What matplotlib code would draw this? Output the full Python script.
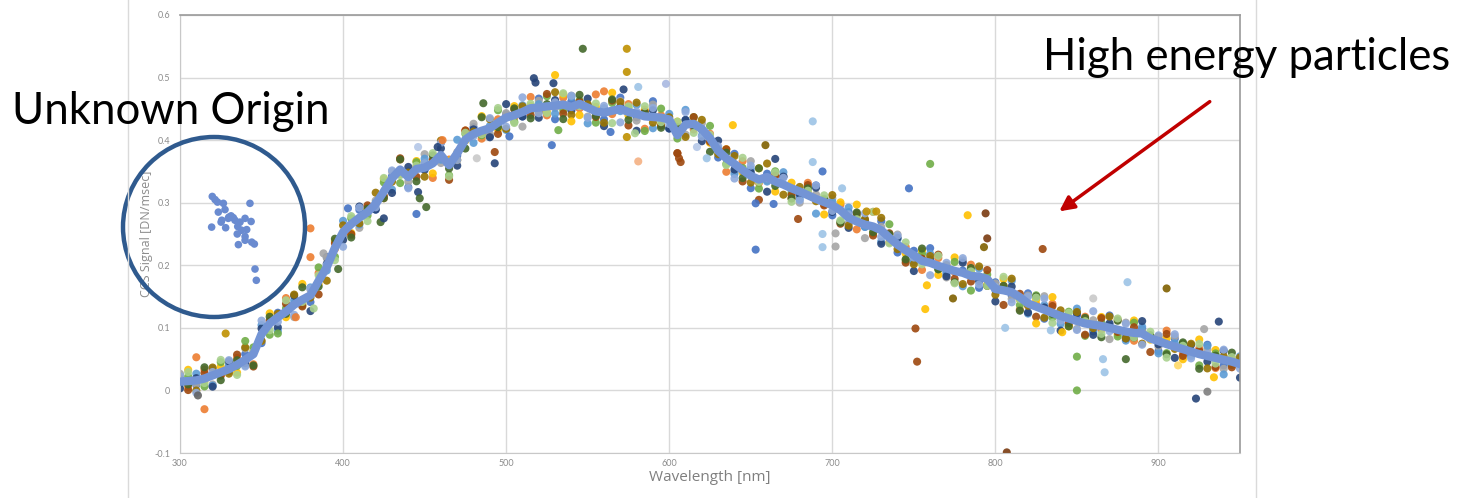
import numpy as np
import matplotlib.pyplot as plt
from matplotlib.patches import Ellipse, FancyArrowPatch
from matplotlib.lines import Line2D

# wavelength grid of the averaged spectrum (nm)
wl_grid = np.arange(300, 951, 5)

# averaged CCS signal [DN/msec], one value per 5 nm
mean_signal = [
    0.014, 0.015, 0.016, 0.019, 0.024, 0.029, 0.034, 0.041, 0.049, 0.058,
    0.090, 0.107, 0.117, 0.126, 0.137, 0.145, 0.152, 0.175, 0.197, 0.228,
    0.253, 0.266, 0.276, 0.285, 0.298, 0.318, 0.339, 0.353, 0.341, 0.354,
    0.356, 0.363, 0.376, 0.360, 0.379, 0.401, 0.410, 0.415, 0.419, 0.428,
    0.436, 0.440, 0.445, 0.451, 0.452, 0.454, 0.455, 0.457, 0.453, 0.458,
    0.452, 0.446, 0.444, 0.447, 0.450, 0.445, 0.442, 0.438, 0.437, 0.436,
    0.433, 0.408, 0.425, 0.426, 0.418, 0.403, 0.383, 0.371, 0.362, 0.352,
    0.343, 0.337, 0.341, 0.334, 0.329, 0.323, 0.318, 0.312, 0.306, 0.301,
    0.296, 0.288, 0.276, 0.270, 0.265, 0.262, 0.256, 0.244, 0.233, 0.224,
    0.216, 0.207, 0.204, 0.199, 0.195, 0.191, 0.188, 0.183, 0.182, 0.178,
    0.162, 0.160, 0.157, 0.149, 0.139, 0.134, 0.129, 0.124, 0.119, 0.115,
    0.111, 0.107, 0.105, 0.103, 0.100, 0.097, 0.094, 0.092, 0.091, 0.083,
    0.079, 0.074, 0.070, 0.066, 0.062, 0.058, 0.055, 0.052, 0.049, 0.046,
    0.042,
]

# individual measurements: deviation from the mean, in steps of 0.0018 DN/msec
# even series sit on 300,310,...; odd series on 305,315,...
dev_unit = 0.0018
series_colors = ['#4472C4', '#ED7D31', '#A5A5A5', '#FFC000', '#5B9BD5', '#70AD47',
                 '#264478', '#9E480E', '#997300', '#43682B', '#8FAADC', '#A9D18E']

dev_1 = [3, -4, 6, -2, 5, -8, 4, 1, -6, 9, -3,
         7, -5, 2, -9, 4, 11, -2, 6, -7, 3, -4,
         8, -12, 5, 2, -6, 10, -3, 14, -8, 4, -1,
         -6, 9, -11, 3, 7, -4, 12, -9, 5, -2, 8,
         -7, 4, 13, -5, 2, -10, 6, -3, 9, -8, 1,
         5, -6, 11, -2, 4, -9, 7, -3, 10, -5, 2]
dev_2 = [-5, 8, -2, 6, -9, 3, 12, -4, 7, -1, -10,
         4, -6, 9, 2, -13, 5, 8, -7, 3, -2, 10,
         -8, 6, -4, 15, -3, 7, -11, 2, 9, -5, 4,
         -12, 8, -3, 6, -9, 11, -2, 5, -7, 13, -4,
         3, -8, 7, -1, 10, -6, 4, -11, 2, 8, -5,
         6, -3, 9, -7, 1, 12, -4, 5, -9, 3]
dev_3 = [7, -3, -8, 4, 10, -6, 2, -11, 5, 8, -2,
         -9, 3, 6, -4, 12, -7, 1, 9, -5, 4, -13,
         6, -2, 10, -8, 3, 7, -6, 11, -1, -9, 5,
         2, -7, 13, -3, 8, -10, 4, 6, -5, -12, 3,
         9, -4, 1, -8, 11, -2, 5, -6, 7, 12, -3,
         -7, 4, -10, 8, 2, -5, 9, -1, 6, -8, 3]
dev_4 = [10, -2, 5, -7, 3, 9, -5, 14, -3, 6, -8,
         2, 11, -4, 7, -9, 4, -1, 13, -6, 8, 2,
         -5, 9, -10, 4, 16, -3, 6, -7, 12, 1, -4,
         8, -2, 10, -9, 5, 3, -11, 7, 15, -6, 2,
         -3, 9, -8, 12, 4, -5, 10, -2, 6, 14, -7,
         3, 8, -4, 11, -1, 5, -9, 13, 7, -2]
dev_5 = [-2, 6, -9, 3, -5, 8, -12, 4, 7, -3, 10,
         -6, 1, -10, 5, 8, -4, 12, -8, 2, -11, 6,
         3, -7, 9, -14, 4, -2, 8, -10, 5, 13, -6,
         2, -9, 6, -4, 11, -7, -13, 3, 9, -2, -10,
         5, -6, 8, -3, -12, 7, -1, 10, -9, 4, -7,
         11, -5, 2, -8, 6, -11, 3, -4, 9, -13, 7]
dev_6 = [4, -7, 9, -1, 6, -10, 3, -5, 12, -8, 5,
         -3, 8, -12, 6, 2, -9, 5, -4, 11, -6, -2,
         9, -5, 3, -10, 7, 4, -13, 8, -3, 6, 11,
         -5, 2, -8, 9, -4, 7, 3, -10, 5, -1, 12,
         -9, 6, -3, 8, -13, 4, 1, -7, 10, -4, 6,
         -11, 3, -6, 9, 2, -8, 5, -10, 4, -3]
dev_7 = [-6, 2, -10, 7, -3, 5, -9, 8, -14, 3, -7,
         10, -5, -13, 9, -2, 6, -11, 4, -8, 12, -4,
         -9, 5, -3, 8, -12, 2, -15, 6, -8, 4, -11,
         9, -5, 3, -13, 7, -2, 10, -6, -9, 4, -12,
         6, -14, 3, -7, 9, -4, -11, 5, -8, 2, -13,
         7, -9, 4, -6, 11, -3, -10, 6, -5, 8, -12]
dev_8 = [-8, 5, -3, 9, -11, 2, 7, -6, -12, 4, -9,
         6, -4, 10, -7, 3, -13, 8, -2, -10, 5, -6,
         11, -8, 2, -5, 9, -12, 4, -7, -16, 6, -3,
         8, -10, -18, 5, -6, 9, -3, -12, 7, -8, 4,
         -11, 2, 10, -7, -5, 8, -13, 3, -9, 6, -4,
         -10, 7, -2, 5, -12, 9, -6, 3, -8, -5]
dev_9 = [2, -9, 7, -4, 11, -6, 3, 9, -2, -12, 6,
         -5, 10, -3, 4, -8, 13, -6, 2, 8, -10, 5,
         -4, 12, -7, 3, -9, 6, 10, -5, 2, -11, 8,
         -3, 7, -6, 12, -9, 4, -2, 9, -7, 5, 11,
         -4, -8, 6, 3, -10, 9, -5, 12, -2, -7, 5,
         8, -3, 10, -6, -9, 4, -2, 7, -11, 3, 6]
dev_10 = [-3, 10, -7, 4, -10, 6, -2, 11, -5, 8, -12,
          3, -6, 9, -11, 7, -3, -8, 12, -4, 6, -9,
          2, -13, 8, -4, 10, -7, 3, -9, 7, -2, -12,
          5, -7, 10, -4, -9, 6, 2, -11, 8, -5, 3,
          -8, 11, -3, -10, 7, -6, 4, -12, 9, -1, -7,
          5, -10, 8, -4, 3, -9, 6, -13, 2, 8]
dev_11 = [5, -11, 3, 8, -6, 12, -4, -9, 6, 2, -13,
          9, -3, 7, -10, 4, 11, -6, -2, 9, -8, 13,
          -5, 3, 10, -9, 6, -12, 2, 8, -4, 11, -7,
          4, -13, 9, -1, 6, -8, 12, -5, 3, 10, -6,
          8, -2, -11, 5, 13, -7, 2, -9, 6, 10, -4,
          -8, 12, -3, 7, -10, 5, 11, -6, 2, 9, -4]
dev_12 = [8, -4, 11, -9, 2, -6, 10, -2, 5, -11, 7,
          -8, 12, -5, 3, 9, -10, 6, -3, 13, -7, 4,
          -6, 10, -2, 7, -11, 5, 9, -4, 12, -8, 3,
          -6, 11, -2, 8, -12, 4, 6, -9, 2, 13, -5,
          7, -3, 9, -11, 4, -6, 12, -2, 8, -9, 5,
          2, -7, 10, -4, 6, -12, 3, 9, -5, 4]
series_devs = [dev_1, dev_2, dev_3, dev_4, dev_5, dev_6,
               dev_7, dev_8, dev_9, dev_10, dev_11, dev_12]

# scattered points away from the band
outlier_wl = [315, 311, 310, 328, 340, 371, 382, 360, 380, 380, 388, 397, 403, 423, 425,
              446, 458, 461, 446, 447, 451, 445, 482, 493, 493, 486, 517, 518, 530, 529,
              528, 532, 547, 574, 574, 560, 572, 581, 598, 581, 574, 564, 606, 607, 605,
              623, 617, 639, 659, 688, 688, 694, 665, 653, 664, 653, 679, 760, 747, 706,
              694, 694, 702, 702, 721, 727, 758, 757, 751, 752, 783, 794, 795, 793, 829,
              881, 905, 860, 937, 928, 850, 866, 867, 880, 850, 923, 930, 934, 912, 806,
              825, 834, 841, 774, 807, 502, 540, 579]
outlier_val = [-0.030, -0.008, 0.053, 0.091, 0.079, 0.117, 0.131, 0.091, 0.259, 0.213,
               0.219, 0.194, 0.291, 0.269, 0.275, 0.389, 0.389, 0.400, 0.317, 0.307,
               0.293, 0.282, 0.371, 0.363, 0.381, 0.459, 0.499, 0.492, 0.504, 0.491,
               0.392, 0.416, 0.546, 0.546, 0.509, 0.478, 0.481, 0.485, 0.490, 0.366,
               0.405, 0.413, 0.371, 0.365, 0.379, 0.371, 0.389, 0.424, 0.392, 0.430,
               0.365, 0.350, 0.370, 0.299, 0.298, 0.225, 0.274, 0.362, 0.323, 0.323,
               0.250, 0.229, 0.251, 0.230, 0.286, 0.286, 0.168, 0.130, 0.099, 0.046,
               0.280, 0.283, 0.243, 0.229, 0.226, 0.173, 0.163, 0.147, 0.110, 0.098,
               0.054, 0.050, 0.029, 0.050, 0.000, -0.013, -0.002, 0.021, 0.040, 0.100,
               0.107, 0.096, 0.093, 0.147, -0.099, 0.406, 0.430, 0.411]
outlier_color = ['#ED7D31', '#636363', '#ED7D31', '#BF9000', '#70AD47', '#ED7D31', '#A9D18E',
                 '#70AD47', '#ED7D31', '#ED7D31', '#A5A5A5', '#43682B', '#4472C4', '#43682B',
                 '#264478', '#B4C7E7', '#264478', '#ED7D31', '#264478', '#43682B', '#43682B',
                 '#4472C4', '#C9C9C9', '#264478', '#9E480E', '#43682B', '#264478', '#264478',
                 '#FFC000', '#264478', '#4472C4', '#70AD47', '#43682B', '#BF9000', '#BF9000',
                 '#ED7D31', '#264478', '#9DC3E6', '#A9B8E0', '#F4B183', '#BF9000', '#4472C4',
                 '#9E480E', '#9E480E', '#9E480E', '#9DC3E6', '#B4C7E7', '#FFC000', '#806000',
                 '#9DC3E6', '#9DC3E6', '#4472C4', '#264478', '#4472C4', '#4472C4', '#4472C4',
                 '#9E480E', '#70AD47', '#4472C4', '#9DC3E6', '#9DC3E6', '#9DC3E6', '#A5A5A5',
                 '#A5A5A5', '#BF9000', '#BF9000', '#FFC000', '#FFC000', '#9E480E', '#9E480E',
                 '#FFC000', '#7A3B10', '#7A3B10', '#806000', '#9E480E', '#9DC3E6', '#806000',
                 '#C9C9C9', '#264478', '#A5A5A5', '#70AD47', '#9DC3E6', '#9DC3E6', '#43682B',
                 '#70AD47', '#264478', '#7F7F7F', '#FFC000', '#FFD966', '#9DC3E6', '#FFC000',
                 '#9DC3E6', '#FFC000', '#806000', '#7A3B10', '#4472C4', '#FFC000', '#A9D18E']

# cluster of unexplained points
unknown_wl = [319.8, 321.5, 323.0, 326.6, 342.9, 323.5, 327.6, 325.6, 330.0, 331.3,
              332.7, 333.7, 336.8, 339.9, 343.6, 319.4, 328.0, 335.4, 337.8, 340.9,
              335.1, 339.9, 335.8, 339.9, 344.0, 345.6, 346.0, 346.8, 325.2, 329.6]
unknown_val = [0.310, 0.305, 0.301, 0.299, 0.299, 0.285, 0.289, 0.272, 0.277, 0.279,
               0.276, 0.272, 0.269, 0.275, 0.270, 0.261, 0.260, 0.262, 0.256, 0.257,
               0.250, 0.246, 0.233, 0.240, 0.237, 0.234, 0.194, 0.176, 0.269, 0.275]

x_ticks = [300, 400, 500, 600, 700, 800, 900]
y_ticks = [-0.1, 0, 0.1, 0.2, 0.3, 0.4, 0.5, 0.6]
y_tick_labels = ['-0.1', '0', '0.1', '0.2', '0.3', '0.4', '0.5', '0.6']

plt.rcParams['font.family'] = ['Lato', 'DejaVu Sans']

fig = plt.figure(figsize=(14.64, 4.98), dpi=100)
ax = fig.add_axes([180 / 1464, 45 / 498, 1060 / 1464, 438 / 498])

mean_arr = np.array(mean_signal)
for i, (col, dev) in enumerate(zip(series_colors, series_devs)):
    xs = wl_grid[i % 2::2]
    ys = mean_arr[i % 2::2]
    n = min(len(xs), len(dev))
    ax.scatter(xs[:n], ys[:n] + np.array(dev[:n]) * dev_unit, s=34, color=col,
               edgecolors='none', alpha=0.9, zorder=2)

ax.scatter(outlier_wl, outlier_val, s=34, c=outlier_color, edgecolors='none',
           alpha=0.9, zorder=2)
ax.scatter(unknown_wl, unknown_val, s=30, color='#6A8BD0', edgecolors='none', zorder=2)
ax.plot(wl_grid, mean_signal, color='#7394D5', lw=6, solid_joinstyle='round', zorder=3)

ax.set_xlim(300, 950)
ax.set_ylim(-0.1, 0.6)
ax.set_xticks(x_ticks)
ax.set_xticklabels([str(t) for t in x_ticks])
ax.set_yticks(y_ticks)
ax.set_yticklabels(y_tick_labels)
ax.tick_params(length=0, labelsize=6.5, labelcolor='#8C8C8C')
ax.tick_params(axis='x', pad=4)
ax.tick_params(axis='y', pad=7)
ax.grid(True, color='#D9D9D9', lw=1)
ax.set_axisbelow(True)
for side in ['left', 'bottom']:
    ax.spines[side].set_color('#C8C8C8')
for side in ['top', 'right']:
    ax.spines[side].set_color('#9A9A9A')
    ax.spines[side].set_linewidth(1.2)
ax.set_xlabel('Wavelength [nm]', fontsize=11, color='#7F7F7F', labelpad=2,
              family=['Open Sans', 'DejaVu Sans'])
ax.set_ylabel('CCS Signal [DN/msec]', fontsize=9, color='#8C8C8C', labelpad=1,
              family=['Open Sans', 'DejaVu Sans'])

# chart frame
fig.add_artist(Line2D([128 / 1464, 128 / 1464], [0, 1], color='#DADADA', lw=1))
fig.add_artist(Line2D([1256 / 1464, 1256 / 1464], [0, 1], color='#DADADA', lw=1))

# annotations
fig.add_artist(Ellipse((214 / 1464, 1 - 227 / 498), 182 / 1464, 180 / 498,
                       transform=fig.transFigure, fill=False, ec='#2F5A8E', lw=3.2))
fig.text(12 / 1464, 1 - 124 / 498, 'Unknown Origin', fontsize=31.5, color='black',
         ha='left', va='baseline')
fig.text(1450 / 1464, 1 - 70 / 498, 'High energy particles', fontsize=31.5, color='black',
         ha='right', va='baseline')
fig.add_artist(FancyArrowPatch((1212 / 1464, 1 - 100 / 498), (1057 / 1464, 1 - 213 / 498),
                               transform=fig.transFigure, arrowstyle='-|>',
                               mutation_scale=22, color='#C00000', lw=2.5))

fig.savefig('out.png', dpi=100)
